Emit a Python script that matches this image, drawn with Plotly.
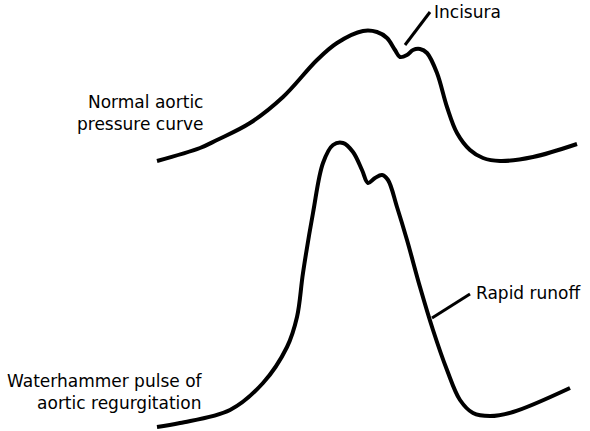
"""Aortic pressure curves: normal vs waterhammer pulse"""

import plotly.graph_objects as go

# Curve points (image pixel coordinates, y grows downward)
normal_x = [157, 200, 217, 250, 283, 317, 337, 363, 377, 387, 395, 400, 407,
            413, 420, 427, 437, 447, 457, 470, 483, 500, 533, 577]
normal_y = [161, 148, 140, 123, 97, 60, 43, 31, 32, 38, 50, 57, 55,
            50, 49, 53, 73, 107, 133, 150, 158, 161, 157, 144]

hammer_x = [157, 180, 230, 263, 287, 297, 303, 313, 323, 333, 343, 353, 362,
            368, 375, 382, 388, 397, 407, 420, 433, 447, 460, 473, 490, 513, 570]
hammer_y = [427, 423, 410, 383, 347, 317, 273, 213, 163, 145, 143, 152, 170,
            183, 178, 175, 180, 207, 240, 287, 330, 370, 400, 413, 416, 412, 388]

# Leader lines for the callouts
incisura_x = [405, 430]
incisura_y = [45, 12]
runoff_x = [432, 470]
runoff_y = [318, 294]

labels = [
    ('Normal aortic<br>pressure curve', 205, 113),
    ('Waterhammer pulse of<br>aortic regurgitation', 205, 392),
]
callouts = [
    ('Incisura', 432, 12),
    ('Rapid runoff', 474, 293),
]

FONT = dict(family='DejaVu Sans, sans-serif', size=17, color='black')

fig = go.Figure()

for xs, ys in [(normal_x, normal_y), (hammer_x, hammer_y)]:
    fig.add_trace(go.Scatter(
        x=xs, y=ys, mode='lines',
        line=dict(color='black', width=4, shape='spline', smoothing=1.0),
        hoverinfo='skip'
    ))

for xs, ys in [(incisura_x, incisura_y), (runoff_x, runoff_y)]:
    fig.add_trace(go.Scatter(
        x=xs, y=ys, mode='lines',
        line=dict(color='black', width=3),
        hoverinfo='skip'
    ))

for text, x, y in labels:
    fig.add_annotation(x=x, y=y, text=text, showarrow=False,
                       xanchor='right', yanchor='middle', align='right', font=FONT)

for text, x, y in callouts:
    fig.add_annotation(x=x, y=y, text=text, showarrow=False,
                       xanchor='left', yanchor='middle', font=FONT)

fig.update_layout(
    width=590,
    height=431,
    margin=dict(l=0, r=0, t=0, b=0),
    paper_bgcolor='white',
    plot_bgcolor='white',
    showlegend=False,
    xaxis=dict(range=[0, 590], visible=False, fixedrange=True),
    yaxis=dict(range=[431, 0], visible=False, fixedrange=True),
)

# drop the default body margin so the figure sits at the window's corner
fig.write_html("out.html", config={'displayModeBar': False},
               post_script="document.body.style.margin='0';")
